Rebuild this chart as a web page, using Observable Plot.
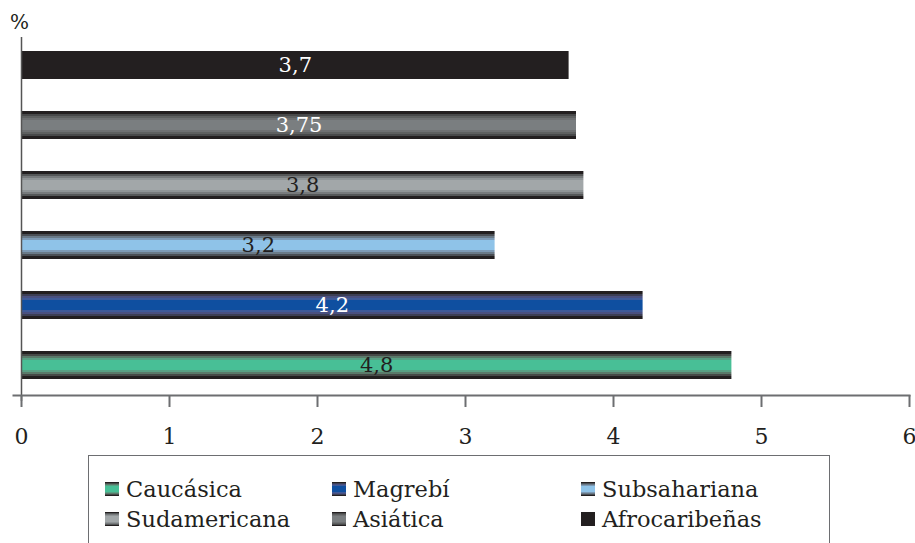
<!DOCTYPE html>
<html>
<head>
<meta charset="utf-8">
<script src="https://cdn.jsdelivr.net/npm/d3@7"></script>
<script src="https://cdn.jsdelivr.net/npm/@observablehq/plot@0.6"></script>
<style>
  body { margin: 0; background: #fff; font-family: "DejaVu Serif", serif; color: #231f20; }
  #wrap { position: relative; width: 915px; height: 543px; overflow: hidden; }
  #pct { position: absolute; left: 10px; top: 10px; font-size: 20px; }
  #legend { position: absolute; left: 88px; top: 455px; width: 742px; height: 110px;
            border: 1.5px solid #6d6e71; box-sizing: border-box; }
  .item { position: absolute; display: flex; align-items: center; font-size: 22.5px; white-space: nowrap; }
  .item svg { margin-right: 7px; }
</style>
</head>
<body>
<div id="wrap">
  <div id="chart"></div>
  <div id="pct">%</div>
  <div id="legend"></div>
</div>
<script>
// ---- data ----
const categories = ["Caucásica", "Magrebí", "Subsahariana", "Sudamericana", "Asiática", "Afrocaribeñas"];
const values = [4.8, 4.2, 3.2, 3.8, 3.75, 3.7];
const valueLabels = ["4,8", "4,2", "3,2", "3,8", "3,75", "3,7"];
const xTicks = [0, 1, 2, 3, 4, 5, 6];

// ---- styles (stripes from edge to centre) ----
const stripes = [
  ["#231f20", "#474a48", "#5a7a6a", "#58a084", "#48bf96"],
  ["#231f20", "#3d3f55", "#4a5080", "#3f5a98", "#0f4fa0"],
  ["#231f20", "#4b4f55", "#6a7a88", "#7d9ab5", "#8fc3e8"],
  ["#231f20", "#555758", "#777a7c", "#8f9496", "#a2a7a9"],
  ["#231f20", "#48494a", "#5e6060", "#6e7072", "#7a7e80"],
  ["#231f20", "#231f20", "#231f20", "#231f20", "#231f20"]
];
const textColors = ["#231f20", "#ffffff", "#231f20", "#231f20", "#ffffff", "#ffffff"];

const data = categories.map((c, i) => ({
  cat: c, value: values[i], label: valueLabels[i],
  fill: `url(#grad${i})`, textFill: textColors[i]
}));

const plot = Plot.plot({
  width: 915, height: 450,
  marginLeft: 21, marginRight: 6, marginTop: 35, marginBottom: 55,
  x: {domain: [0, 6]},
  y: {domain: categories.slice().reverse(), paddingInner: 0.53, paddingOuter: 0.265, axis: null},
  color: {type: "identity"},
  style: {fontFamily: "DejaVu Serif", fontSize: "20px", color: "#231f20", background: "#fff"},
  marks: [
    Plot.barX(data, {x: "value", y: "cat", fill: "fill"}),
    Plot.text(data, {x: d => d.value / 2, y: "cat", text: "label", fill: "textFill", fontSize: 21}),
    Plot.ruleX([0], {stroke: "#555", strokeWidth: 1.5, insetBottom: -6, insetTop: 2}),
    Plot.frame({anchor: "bottom", stroke: "#6d6e71", strokeWidth: 2, insetLeft: -8}),
    Plot.axisX(xTicks, {tickSize: 12, tickPadding: 21, stroke: "#6d6e71", strokeWidth: 2,
      tickFormat: d => String(d), label: null, fill: "#231f20", fontSize: 22})
  ]
});

// gradients
const defs = d3.select(plot).insert("defs", ":first-child");
stripes.forEach((s, i) => {
  const g = defs.append("linearGradient").attr("id", `grad${i}`)
    .attr("x1", 0).attr("y1", 0).attr("x2", 0).attr("y2", 1);
  const edges = [0, 0.1, 0.17, 0.24, 0.31];
  const stops = [];
  s.forEach((col, k) => {
    const a = edges[k], b = k < s.length - 1 ? edges[k + 1] : 0.5;
    stops.push([a, col], [b, col]);
  });
  const mirrored = stops.slice().reverse().map(([o, c]) => [1 - o, c]);
  stops.concat(mirrored).forEach(([o, c]) => g.append("stop").attr("offset", o).attr("stop-color", c));
});
document.getElementById("chart").appendChild(plot);

// legend
const legend = document.getElementById("legend");
const colX = [16, 243, 492];
const rowY = [20, 50];
categories.forEach((c, i) => {
  const div = document.createElement("div");
  div.className = "item";
  div.style.left = colX[i % 3] + "px";
  div.style.top = rowY[Math.floor(i / 3)] + "px";
  div.innerHTML = `<svg width="14" height="14"><rect width="14" height="14" fill="url(#grad${i})"/></svg><span>${c}</span>`;
  legend.appendChild(div);
});
</script>
</body>
</html>
